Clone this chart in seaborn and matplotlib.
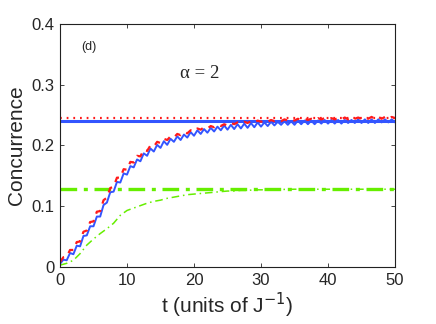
import numpy as np
import pandas as pd
import matplotlib
matplotlib.use("Agg")
import matplotlib.pyplot as plt
import seaborn as sns

# time grid (units of 1/J), half steps for the oscillating curves
t_half = np.arange(0, 50.5, 0.5)

blue_curve = [
    0.005, 0.012, 0.011, 0.023, 0.021, 0.035, 0.034, 0.051, 0.052, 0.067,
    0.067, 0.083, 0.083, 0.102, 0.106, 0.123, 0.124, 0.140, 0.139, 0.154,
    0.152, 0.166, 0.164, 0.177, 0.174, 0.187, 0.183, 0.195, 0.190, 0.201,
    0.196, 0.207, 0.201, 0.211, 0.206, 0.215, 0.209, 0.218, 0.213, 0.222,
    0.216, 0.225, 0.219, 0.227, 0.221, 0.229, 0.223, 0.231, 0.225, 0.233,
    0.226, 0.234, 0.227, 0.235, 0.228, 0.236, 0.229, 0.237, 0.230, 0.238,
    0.231, 0.238, 0.232, 0.239, 0.233, 0.239, 0.234, 0.240, 0.234, 0.240,
    0.234, 0.241, 0.235, 0.241, 0.235, 0.241, 0.235, 0.241, 0.236, 0.242,
    0.236, 0.242, 0.236, 0.242, 0.236, 0.242, 0.237, 0.242, 0.237, 0.243,
    0.237, 0.243, 0.237, 0.243, 0.237, 0.243, 0.238, 0.243, 0.238, 0.243,
    0.238,
]

red_curve = [
    0.008, 0.016, 0.017, 0.028, 0.028, 0.041, 0.042, 0.058, 0.060, 0.074,
    0.075, 0.091, 0.092, 0.110, 0.114, 0.130, 0.132, 0.147, 0.147, 0.161,
    0.160, 0.173, 0.172, 0.183, 0.182, 0.193, 0.191, 0.200, 0.198, 0.206,
    0.204, 0.211, 0.209, 0.215, 0.213, 0.219, 0.217, 0.222, 0.220, 0.225,
    0.223, 0.228, 0.226, 0.230, 0.228, 0.232, 0.230, 0.234, 0.232, 0.235,
    0.233, 0.237, 0.235, 0.238, 0.236, 0.239, 0.237, 0.240, 0.238, 0.241,
    0.239, 0.241, 0.239, 0.242, 0.240, 0.242, 0.240, 0.243, 0.241, 0.243,
    0.241, 0.244, 0.242, 0.244, 0.242, 0.244, 0.242, 0.245, 0.243, 0.245,
    0.243, 0.245, 0.243, 0.245, 0.243, 0.246, 0.243, 0.246, 0.244, 0.246,
    0.244, 0.246, 0.244, 0.247, 0.244, 0.247, 0.244, 0.247, 0.244, 0.247,
    0.245,
]

t_green = [0, 1, 2, 3, 4, 5, 6, 7, 8, 9, 10, 11, 12, 13, 14, 15, 16, 17, 18,
           19, 20, 21, 22, 23, 24, 25, 26, 27, 28, 29, 30, 35, 40, 45, 50]
green_curve = [0.003, 0.006, 0.011, 0.022, 0.036, 0.046, 0.055, 0.063, 0.072,
               0.085, 0.093, 0.097, 0.101, 0.105, 0.108, 0.110, 0.113, 0.115,
               0.117, 0.119, 0.120, 0.121, 0.122, 0.123, 0.124, 0.125, 0.125,
               0.126, 0.126, 0.127, 0.127, 0.128, 0.128, 0.128, 0.128]

# steady-state levels
blue_level = 0.2405
red_level = 0.245
green_level = 0.128

x_ticks = [0, 10, 20, 30, 40, 50]
y_ticks = [0, 0.1, 0.2, 0.3, 0.4]
y_tick_labels = ["0", "0.1", "0.2", "0.3", "0.4"]

BLUE = "#3355ff"
RED = "#ff1a1a"
GREEN = "#66ee00"

sns.set_style("ticks")
plt.rcParams["font.family"] = ["Liberation Sans", "DejaVu Sans"]

fig = plt.figure(figsize=(4.36, 3.24), dpi=100)
ax = fig.add_axes([0.1376, 0.176, 0.7684, 0.750])

df_b = pd.DataFrame({"t": t_half, "C": blue_curve})
df_r = pd.DataFrame({"t": t_half, "C": red_curve})
df_g = pd.DataFrame({"t": t_green, "C": green_curve})

# horizontal steady-state lines
ax.axhline(green_level, color=GREEN, lw=2.4, ls=(0, (5, 2, 1.2, 2)))
ax.axhline(blue_level, color=BLUE, lw=2.2, ls="-")
ax.axhline(red_level, color=RED, lw=1.6, ls=(0, (0.8, 2.2)))

# time-dependent curves
sns.lineplot(data=df_g, x="t", y="C", ax=ax, color=GREEN, lw=1.1,
             linestyle=(0, (5, 2.5, 1, 2.5)))
sns.lineplot(data=df_b, x="t", y="C", ax=ax, color=BLUE, lw=1.4)
sns.lineplot(data=df_r, x="t", y="C", ax=ax, color=RED, lw=1.6,
             linestyle=(0, (3, 3)))

ax.set_xlim(0, 50)
ax.set_ylim(0, 0.4)
ax.set_xticks(x_ticks)
ax.set_yticks(y_ticks)
ax.set_yticklabels(y_tick_labels)
ax.tick_params(direction="in", top=True, right=True, labelsize=12,
               length=3, width=0.6, pad=4)
for s in ax.spines.values():
    s.set_linewidth(0.8)
    s.set_color("#222222")

ax.set_xlabel("t (units of J$^{-1}$)", fontsize=15, labelpad=2)
ax.set_ylabel("Concurrence", fontsize=15, labelpad=4)

ax.text(0.063, 0.905, "(d)", transform=ax.transAxes, fontsize=9,
        ha="left", va="center")
ax.text(0.358, 0.795, "α = 2", transform=ax.transAxes, fontsize=13.5,
        family=["Liberation Serif", "DejaVu Serif"], ha="left", va="center")

fig.savefig("out.png", dpi=100)
